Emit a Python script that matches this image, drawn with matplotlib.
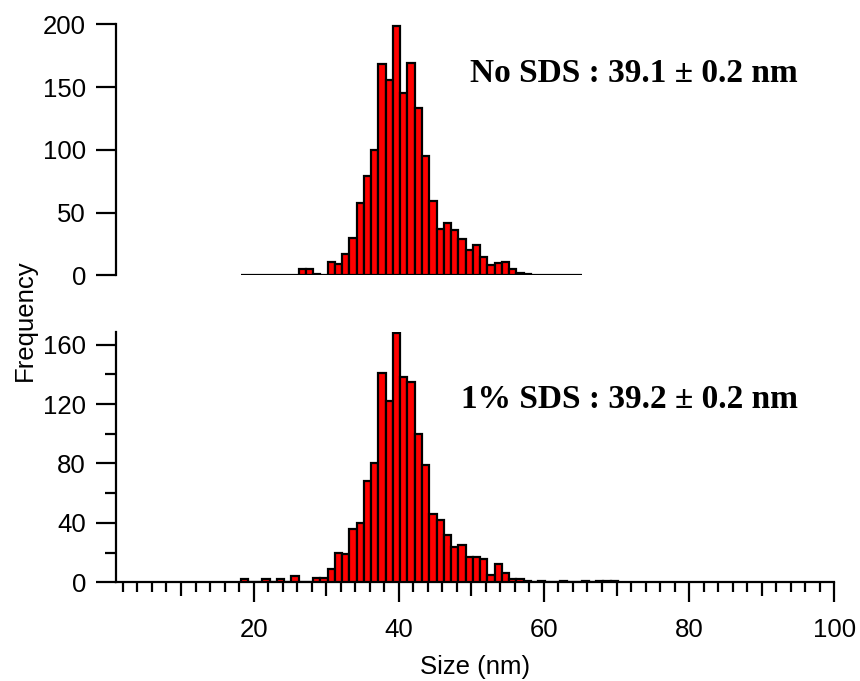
import numpy as np
import matplotlib
matplotlib.use('Agg')
import matplotlib.pyplot as plt
from matplotlib.ticker import MultipleLocator, FuncFormatter

plt.rcParams['font.family'] = ['Liberation Sans', 'DejaVu Sans']

# ---- data: 1 nm bins, left edges start at 18.2 nm ----
bin_start = 18.2
bin_width = 1.0

# No SDS, bins 18..64
counts_no_sds = [0, 0, 0, 0, 0, 0, 0, 0,
                 5, 5, 1, 0, 11, 9, 17, 30, 58, 79, 100, 168,
                 156, 199, 145, 169, 133, 95, 59, 37, 42, 36,
                 29, 20, 24, 15, 8, 10, 11, 5, 2, 1,
                 0, 0, 0, 0, 0, 0, 0]

# 1% SDS, bins 18..69
counts_1pct_sds = [2, 0, 0, 2, 0, 2, 0, 4, 0, 0,
                   3, 3, 9, 20, 19, 36, 40, 68, 80, 141,
                   122, 168, 138, 135, 100, 79, 46, 42, 32, 24,
                   25, 17, 17, 16, 5, 12, 6, 2, 2,
                   1, 0, 1, 0, 0, 1, 0, 0, 1, 0, 1, 1, 1]

label_top = 'No SDS : 39.1 ± 0.2 nm'
label_bottom = '1% SDS : 39.2 ± 0.2 nm'

x_lim = (1, 100)

fig = plt.figure(figsize=(8.6, 6.81), dpi=100)
ax1 = fig.add_axes([0.1345, 0.5957, 0.8356, 0.3686])
ax2 = fig.add_axes([0.1345, 0.1449, 0.8356, 0.3680])

lw = 1.6
tick_fs = 18.5


def draw_hist(ax, counts):
    left = bin_start + bin_width * np.arange(len(counts))
    ax.bar(left, counts, width=bin_width, align='edge', color='#ff0000',
           edgecolor='black', linewidth=lw, zorder=3)


# ---------- top panel ----------
draw_hist(ax1, counts_no_sds)
ax1.set_xlim(*x_lim)
ax1.set_ylim(0, 200)
for s in ['top', 'right', 'bottom']:
    ax1.spines[s].set_visible(False)
ax1.spines['left'].set_linewidth(lw)
ax1.set_xticks([])
ax1.yaxis.set_major_locator(MultipleLocator(50))
ax1.tick_params(axis='y', direction='out', length=14.4, width=lw,
                labelsize=tick_fs, pad=7)

# ---------- bottom panel ----------
draw_hist(ax2, counts_1pct_sds)
ax2.set_xlim(*x_lim)
ax2.set_ylim(0, 168.7)
for s in ['top', 'right']:
    ax2.spines[s].set_visible(False)
ax2.spines['left'].set_linewidth(lw)
ax2.spines['bottom'].set_linewidth(lw)
ax2.yaxis.set_major_locator(MultipleLocator(40))
ax2.yaxis.set_minor_locator(MultipleLocator(20))
ax2.xaxis.set_major_locator(MultipleLocator(10))
ax2.xaxis.set_minor_locator(MultipleLocator(2))
ax2.xaxis.set_major_formatter(FuncFormatter(
    lambda v, p: f'{int(round(v))}' if round(v) % 20 == 0 and v > 0 else ''))
ax2.tick_params(axis='y', which='major', direction='out', length=14.4,
                width=lw, labelsize=tick_fs, pad=7)
ax2.tick_params(axis='y', which='minor', direction='out', length=7.7, width=lw)
ax2.tick_params(axis='x', which='major', direction='out', length=14.4,
                width=lw, labelsize=tick_fs, pad=11)
ax2.tick_params(axis='x', which='minor', direction='out', length=7.2, width=lw)

# ticks at odd multiples of 10 are mid-length
for t, v in zip(ax2.xaxis.get_major_ticks(), ax2.xaxis.get_majorticklocs()):
    if round(v) % 20 == 10:
        t.tick1line.set_markersize(10.2)

ax2.set_xlabel('Size (nm)', fontsize=tick_fs, labelpad=10)

fig.text(25 / 860, 1 - 320 / 681, 'Frequency', rotation=90,
         ha='center', va='center', fontsize=tick_fs)

fig.text(798 / 860, 1 - 82 / 681, label_top, ha='right', va='baseline',
         fontsize=24, fontweight='bold', family=['Liberation Serif', 'DejaVu Serif'])
fig.text(798 / 860, 1 - 408 / 681, label_bottom, ha='right', va='baseline',
         fontsize=24, fontweight='bold', family=['Liberation Serif', 'DejaVu Serif'])

fig.savefig('out.png', dpi=100, facecolor='white')
